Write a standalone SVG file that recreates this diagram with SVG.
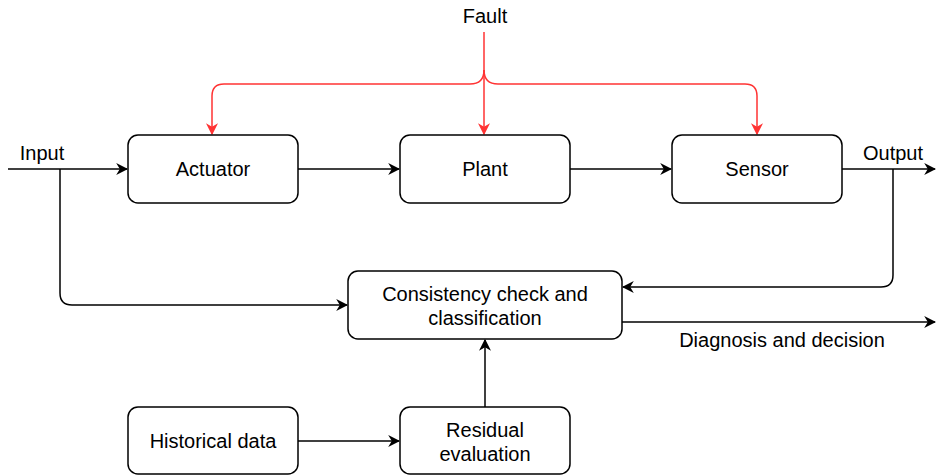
<svg xmlns="http://www.w3.org/2000/svg" width="936" height="475" viewBox="0 0 936 475">
<style>
.box{fill:#fff;stroke:#000;stroke-width:1.5}
.t{font-family:"Liberation Sans",Arial,sans-serif;font-size:20px;fill:#000;text-anchor:middle}
.l{stroke:#000;stroke-width:1.5;fill:none}
.r{stroke:#FF3333;stroke-width:1.5;fill:none}
</style>
<defs>
<marker id="ab" viewBox="0 0 10 10" refX="9" refY="5" markerWidth="12" markerHeight="12" markerUnits="userSpaceOnUse" orient="auto">
<path d="M0,0 L10,5 L0,10 L3,5 Z" fill="#000"/>
</marker>
<marker id="ar" viewBox="0 0 10 10" refX="9" refY="5" markerWidth="12" markerHeight="12" markerUnits="userSpaceOnUse" orient="auto">
<path d="M0,0 L10,5 L0,10 L3,5 Z" fill="#FF3333"/>
</marker>
</defs>
<rect width="936" height="475" fill="#fff"/>
<g id="connectors">
<path class="l" d="M8,169 H127" marker-end="url(#ab)"/>
<path class="l" d="M60,169 V293 Q60,305 72,305 H347" marker-end="url(#ab)"/>
<path class="l" d="M298,169 H399" marker-end="url(#ab)"/>
<path class="l" d="M570,169 H671" marker-end="url(#ab)"/>
<path class="l" d="M842,169 H935" marker-end="url(#ab)"/>
<path class="l" d="M893,169 V275 Q893,287 881,287 H623" marker-end="url(#ab)"/>
<path class="l" d="M622,322 H935" marker-end="url(#ab)"/>
<path class="l" d="M298,441 H399" marker-end="url(#ab)"/>
<path class="l" d="M485,407 V340" marker-end="url(#ab)"/>
<path class="r" d="M484,32 V134" marker-end="url(#ar)"/>
<path class="r" d="M484,70 Q484,84 470,84 H224 Q212,84 212,96 V134" marker-end="url(#ar)"/>
<path class="r" d="M484,70 Q484,84 498,84 H745 Q757,84 757,96 V134" marker-end="url(#ar)"/>
</g>
<g id="labels">
<text class="t" x="485" y="23">Fault</text>
<text class="t" x="42" y="160">Input</text>
<text class="t" x="893" y="160">Output</text>
<text class="t" x="782" y="347">Diagnosis and decision</text>
</g>
<g id="actuator"><rect class="box" x="128" y="135" width="170" height="68" rx="10"/><text class="t" x="213" y="176">Actuator</text></g>
<g id="plant"><rect class="box" x="400" y="135" width="170" height="68" rx="10"/><text class="t" x="485" y="176">Plant</text></g>
<g id="sensor"><rect class="box" x="672" y="135" width="170" height="68" rx="10"/><text class="t" x="757" y="176">Sensor</text></g>
<g id="consistency"><rect class="box" x="348" y="271" width="274" height="68" rx="10"/><text class="t" x="485" y="301">Consistency check and</text><text class="t" x="485" y="325">classification</text></g>
<g id="historical"><rect class="box" x="128" y="407" width="170" height="67" rx="10"/><text class="t" x="213" y="448">Historical data</text></g>
<g id="residual"><rect class="box" x="400" y="407" width="170" height="67" rx="10"/><text class="t" x="485" y="437">Residual</text><text class="t" x="485" y="461">evaluation</text></g>
</svg>
